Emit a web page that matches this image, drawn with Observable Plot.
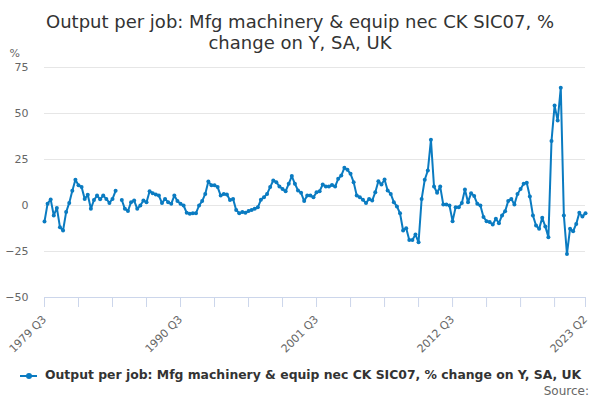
<!DOCTYPE html>
<html><head><meta charset="utf-8">
<script src="https://cdn.jsdelivr.net/npm/d3@7"></script>
<script src="https://cdn.jsdelivr.net/npm/@observablehq/plot@0.6"></script>
<style>
body{margin:0;width:600px;height:400px;position:relative;overflow:hidden;font-family:"DejaVu Sans",sans-serif;background:#fff}
#title{position:absolute;top:11px;left:0;width:600px;text-align:center;font-size:18px;line-height:21px;color:#333}
#chart{position:absolute;top:40px;left:0}
#legend{position:absolute;top:366px;left:0;width:600px;height:20px}
#legend .sym{position:absolute;left:20px;top:9px;width:17px;height:2px;background:#0a7bc1}
#legend .dot{position:absolute;left:25.5px;top:7px;width:6px;height:6px;border-radius:3px;background:#0a7bc1}
#legend .txt{position:absolute;left:45px;top:1px;font-size:12.4px;font-weight:bold;color:#333;white-space:nowrap}
#source{position:absolute;right:11px;top:384px;font-size:12px;color:#666}
</style></head>
<body>
<div id="chart"></div>
<div id="title">Output per job: Mfg machinery &amp; equip nec CK SIC07, %<br>change on Y, SA, UK</div>
<div id="legend"><div class="sym"></div><div class="dot"></div><div class="txt">Output per job: Mfg machinery &amp; equip nec CK SIC07, % change on Y, SA, UK</div></div>
<div id="source">Source:</div>
<script>
const values1979_1987 = [-8.7, 1, 3.3, -5.4, -1.3, -11.8, -13.6, -3.6, 1.4, 8, 14, 11, 10, 3.6, 5.8, -1.8, 3, 5.4, 3.4, 5.4, 3.6, 1.4, 3.6, 8, null, 3, -1.8, -3, 1.8, 2.7, -1.8, 0, 2.7, 1.8, 7.8];
const values1988_1996 = [6.7, 6, 5.4, 1.3, 3.6, 1.8, 0.9, 5.4, 2.4, 0.9, 0, -4, -4.5, -4.2, -4.2, 0, 2.4, 6.3, 13, 11, 11, 10, 5.4, 6.3, 6, 3, 3.6, -2.4, -4.2, -3.6, -4, -3, -2.4, -1.8, -1];
const values1997_2005 = [3.1, 4.5, 6.3, 10, 13.6, 12.7, 10.3, 9, 7.8, 11.8, 16, 11.8, 8.2, 6.9, 2.4, 5.4, 5.4, 4.5, 7.2, 7.8, 11.4, 10.3, 10.3, 11.2, 10.3, 14.5, 16.3, 20.5, 19.4, 17.2, 12.7, 5.4, 4.5, 3.1, 1.3];
const values2005_2014 = [3.6, 2.7, 7.2, 13.2, 11.4, 14.1, 8.2, 6.3, 1.8, -0.5, -4.2, -13.6, -12.3, -18.7, -18.7, -15.8, -20, 3.6, 14, 19, 35.7, 10.3, 6.9, 10.3, 0.5, 0.5, 0, -8.5, -0.9, -0.9, 1.3, 8.7, 1.8, 6.7, 5.1, 0.9];
const values2014_2023 = [0, -6.3, -8.5, -9, -10.3, -7.2, -9.6, -5.4, -3.1, 2.4, 3.6, 0.5, 6.3, 9, 11.8, 12.3, 4.9, -5.4, -10.9, -12.7, -6.7, -11.4, -17.2, 35, 54.3, 46.2, 64, -5.4, -26.3, -12.7, -14, -10, -4, -6, -4.2];
const values = [...values1979_1987, ...values1988_1996, ...values1997_2005, ...values2005_2014, ...values2014_2023];

const startYear = 1979, startQuarter = 3;
const quarters = values.map((_, i) => {
  const q = startQuarter - 1 + i;
  return `${startYear + Math.floor(q / 4)} Q${(q % 4) + 1}`;
});
const xTickLabels = ["1979 Q3", "1990 Q3", "2001 Q3", "2012 Q3", "2023 Q2"];
const xMinorTicks = quarters.filter((_, i) => i % 11 === 0).concat(["2023 Q2"]);
const yTicks = [-50, -25, 0, 25, 50, 75];
const data = quarters.map((q, i) => ({q, v: values[i]}));
const color = "#0a7bc1";

const plot = Plot.plot({
  width: 600, height: 310,
  marginTop: 27, marginBottom: 53, marginLeft: 44, marginRight: 15,
  style: {background: "transparent", fontFamily: "DejaVu Sans, sans-serif", fontSize: "11px", overflow: "visible"},
  x: {type: "point", domain: quarters, padding: 0, round: false},
  y: {domain: [-50, 75]},
  marks: [
    Plot.gridY(yTicks, {stroke: "#e6e6e6", strokeOpacity: 1}),
    Plot.axisY(yTicks, {tickSize: 0, tickPadding: 16, label: null, fill: "#666"}),
    Plot.ruleY([-50], {stroke: "#ccd6eb"}),
    Plot.axisX(xMinorTicks, {tickSize: 10, tickFormat: () => "", stroke: "#ccd6eb", label: null}),
    Plot.axisX(xTickLabels, {tickSize: 0, tickRotate: -45, tickPadding: 20, label: null, fill: "#666"}),
    Plot.line(data, {x: "q", y: "v", stroke: color, strokeWidth: 2}),
    Plot.dot(data, {x: "q", y: "v", r: 2, fill: color}),
    Plot.text(["%"], {frameAnchor: "top-left", text: d => d, dx: -35, dy: -18, textAnchor: "start", fill: "#666"})
  ]
});
document.getElementById("chart").appendChild(plot);
</script>
</body></html>
